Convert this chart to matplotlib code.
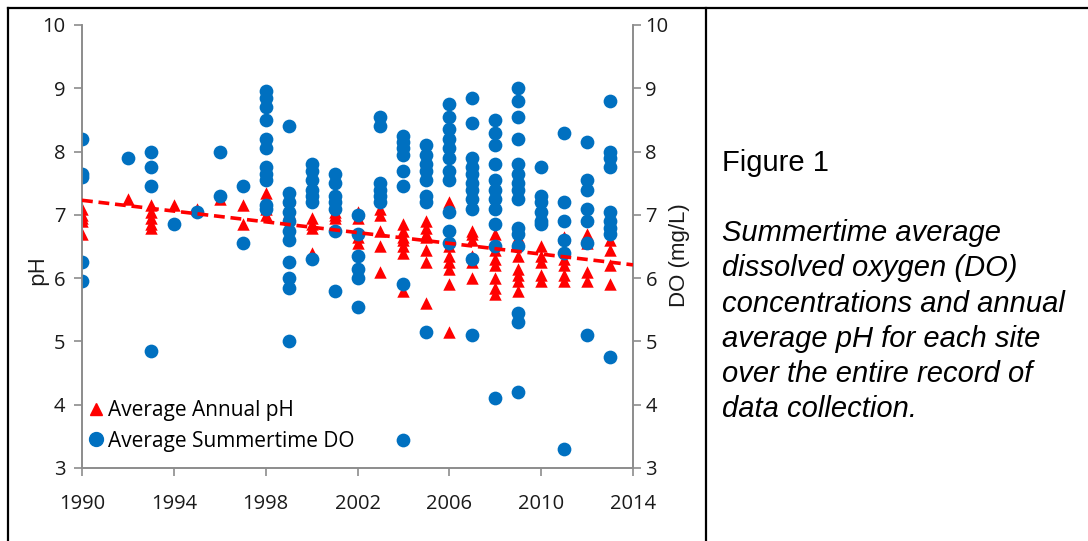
import matplotlib
matplotlib.use("Agg")
import matplotlib.pyplot as plt
from matplotlib.lines import Line2D

# values
ph_year = ([1990] * 5 + [1992] + [1993] * 5 + [1994] + [1995] + [1996] + [1997] * 2
           + [1998] * 4 + [1999] * 3 + [2000] * 4 + [2001] * 3 + [2002] * 4 + [2003] * 5
           + [2004] * 7 + [2005] * 7 + [2006] * 7 + [2007] * 6 + [2008] * 8 + [2009] * 7
           + [2010] * 5 + [2011] * 5 + [2012] * 5 + [2013] * 4)
ph_val = [7.1, 7.0, 6.95, 6.9, 6.7,
          7.25,
          7.15, 7.05, 6.95, 6.85, 6.8,
          7.15,
          7.1,
          7.25,
          7.15, 6.85,
          7.35, 7.25, 7.1, 7.0,
          7.25, 7.05, 6.95,
          6.95, 6.85, 6.8, 6.4,
          7.05, 7.0, 6.95,
          7.05, 6.95, 6.65, 6.55,
          7.1, 7.0, 6.75, 6.5, 6.1,
          6.85, 6.75, 6.65, 6.6, 6.5, 6.4, 5.8,
          6.9, 6.8, 6.7, 6.65, 6.45, 6.25, 5.6,
          7.2, 6.5, 6.35, 6.25, 6.15, 5.9, 5.15,
          6.75, 6.7, 6.6, 6.35, 6.25, 6.0,
          6.7, 6.55, 6.45, 6.3, 6.2, 6.0, 5.85, 5.75,
          6.65, 6.55, 6.35, 6.15, 6.05, 5.95, 5.8,
          6.5, 6.35, 6.25, 6.05, 5.95,
          6.65, 6.3, 6.2, 6.05, 5.95,
          6.95, 6.7, 6.55, 6.1, 5.95,
          6.6, 6.45, 6.2, 5.9]

do_year = ([1990] * 5 + [1992] + [1993] * 4 + [1994] + [1995] + [1996] * 2 + [1997] * 2
           + [1998] * 11 + [1999] * 11 + [2000] * 7 + [2001] * 7 + [2002] * 6 + [2003] * 6
           + [2004] * 8 + [2005] * 8 + [2006] * 11 + [2007] * 11 + [2008] * 11 + [2009] * 15
           + [2010] * 6 + [2011] * 6 + [2012] * 7 + [2013] * 9)
do_val = [8.2, 7.65, 7.6, 6.25, 5.95,
          7.9,
          8.0, 7.75, 7.45, 4.85,
          6.85,
          7.05,
          8.0, 7.3,
          7.45, 6.55,
          8.95, 8.85, 8.7, 8.5, 8.2, 8.05, 7.75, 7.65, 7.55, 7.15, 7.1,
          8.4, 7.35, 7.2, 7.05, 6.9, 6.75, 6.6, 6.25, 6.0, 5.85, 5.0,
          7.8, 7.7, 7.55, 7.4, 7.3, 7.2, 6.3,
          7.65, 7.5, 7.3, 7.2, 7.1, 6.75, 5.8,
          7.0, 6.7, 6.35, 6.15, 6.0, 5.55,
          8.55, 8.4, 7.5, 7.4, 7.3, 7.2,
          8.25, 8.15, 8.05, 7.95, 7.7, 7.45, 5.9, 3.45,
          8.1, 7.95, 7.8, 7.7, 7.55, 7.3, 7.2, 5.15,
          8.75, 8.55, 8.35, 8.2, 8.05, 7.9, 7.7, 7.55, 7.05, 6.75, 6.55,
          8.85, 8.45, 7.9, 7.75, 7.65, 7.5, 7.4, 7.25, 7.1, 6.3, 5.1,
          8.5, 8.3, 8.1, 7.8, 7.55, 7.4, 7.25, 7.1, 6.85, 6.5, 4.1,
          9.0, 8.8, 8.55, 8.2, 7.8, 7.65, 7.5, 7.4, 7.25, 6.8, 6.7, 6.5, 5.45, 5.3, 4.2,
          7.75, 7.3, 7.2, 7.05, 6.9, 6.85,
          8.3, 7.2, 6.9, 6.6, 6.4, 3.3,
          8.15, 7.55, 7.4, 7.1, 6.9, 6.55, 5.1,
          8.8, 8.0, 7.9, 7.75, 7.05, 6.9, 6.8, 6.7, 4.75]

# linear trend of pH (end points)
trend_year = [1990, 2014]
trend_ph = [7.23, 6.21]

year_ticks = [1990, 1994, 1998, 2002, 2006, 2010, 2014]
y_ticks = [3, 4, 5, 6, 7, 8, 9, 10]

caption_title = "Figure 1"
caption_body = ("Summertime average\ndissolved oxygen (DO)\nconcentrations and annual\n"
                "average pH for each site\nover the entire record of\ndata collection.")

RED = "#FF0000"
BLUE = "#0070C0"
GREY = "#8C8C8C"
narrow = ["Open Sans", "DejaVu Sans"]

fig = plt.figure(figsize=(10.88, 5.41), dpi=100)
ax = fig.add_axes([82 / 1088, 1 - 468 / 541, 551 / 1088, 443 / 541])
ax2 = ax.twinx()

ax.scatter(ph_year, ph_val, marker="^", s=80, color=RED, linewidths=0, zorder=2)
ax2.scatter(do_year, do_val, marker="o", s=98, color=BLUE, linewidths=0, zorder=2)
ax2.plot(trend_year, trend_ph, color=RED, lw=2.6, ls=(0, (3, 1.6)), zorder=3)

for a in (ax, ax2):
    a.set_xlim(1990, 2014)
    a.set_ylim(3, 10)
    a.set_yticks(y_ticks)
    a.spines["top"].set_visible(False)
    for side in ("left", "right", "bottom"):
        a.spines[side].set_color(GREY)
        a.spines[side].set_linewidth(1.2)
    a.tick_params(direction="out", length=6, width=1.2, color=GREY,
                  labelsize=14.5, labelcolor="#1a1a1a")
    for lab in a.get_yticklabels() + a.get_xticklabels():
        lab.set_family(narrow)
ax.set_xticks(year_ticks)
ax.tick_params(axis="y", pad=6)
ax.tick_params(axis="x", pad=13)
ax2.tick_params(axis="y", pad=3)

ax.set_ylabel("pH", fontsize=16, family=narrow, color="#1a1a1a")
ax.yaxis.set_label_coords(-0.062, 0.447)
ax2.set_ylabel("DO (mg/L)", fontsize=16, family="Liberation Sans", color="#1a1a1a",
               rotation=90)
ax2.yaxis.set_label_coords(1.066, 0.48)

handles = [Line2D([], [], marker="^", ls="none", color=RED, markersize=9),
           Line2D([], [], marker="o", ls="none", color=BLUE, markersize=10)]
ax2.legend(handles, ["Average Annual pH", "Average Summertime DO"], loc="lower left",
           bbox_to_anchor=(-0.004, 0.018), frameon=False, handletextpad=0.15,
           handlelength=0.8, labelspacing=0.45, borderaxespad=0,
           prop={"family": narrow, "size": 15})

# table frame around chart and caption
fig.add_artist(Line2D([8 / 1088, 1], [1 - 8 / 541, 1 - 8 / 541], transform=fig.transFigure,
                      color="black", lw=1.6))
fig.add_artist(Line2D([8 / 1088, 8 / 1088], [0, 1 - 8 / 541], transform=fig.transFigure,
                      color="black", lw=1.6))
fig.add_artist(Line2D([706 / 1088, 706 / 1088], [0, 1 - 8 / 541], transform=fig.transFigure,
                      color="black", lw=1.6))

fig.text(722 / 1088, 1 - 163 / 541, caption_title, fontsize=21, family="Liberation Sans",
         va="center", ha="left")
fig.text(722 / 1088, 1 - 219 / 541, caption_body, fontsize=21, family="Liberation Sans",
         style="italic", va="top", ha="left", linespacing=1.33)

fig.savefig("out.png", dpi=100)
